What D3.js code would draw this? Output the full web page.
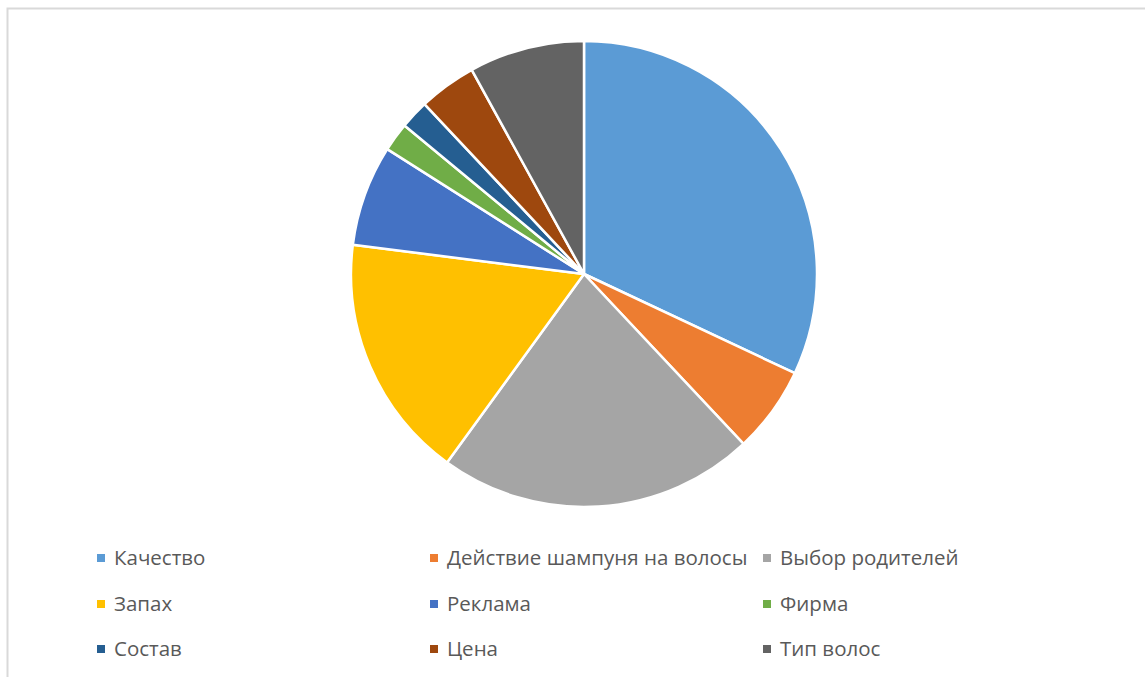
<!DOCTYPE html>
<html>
<head>
<meta charset="utf-8">
<script src="https://cdn.jsdelivr.net/npm/d3@7"></script>
<style>
  body { margin: 0; background: #fff; }
  .legend text { font-family: "Open Sans", "Noto Sans", sans-serif; font-size: 20.5px; fill: #595959; }
</style>
</head>
<body>
<script>
const width = 1145, height = 677;

// data (percent)
const categories = ["Качество", "Действие шампуня на волосы", "Выбор родителей", "Запах",
  "Реклама", "Фирма", "Состав", "Цена", "Тип волос"];
const values = [32, 6, 22, 17, 7, 2, 2, 4, 8];
const colors = ["#5B9BD5", "#ED7D31", "#A5A5A5", "#FFC000", "#4472C4", "#70AD47", "#255E91", "#9E480E", "#636363"];

const svg = d3.select("body").append("svg")
    .attr("width", width)
    .attr("height", height);

// chart area frame
svg.append("path")
    .attr("d", "M7.5," + height + " V8.5 H" + width)
    .attr("fill", "none")
    .attr("stroke", "#d9d9d9")
    .attr("stroke-width", 2);

const cx = 584, cy = 274, radius = 233;

const data = categories.map(function (c, i) { return { name: c, value: values[i] }; });

const pie = d3.pie()
    .sort(null)
    .value(function (d) { return d.value; });

const arc = d3.arc()
    .innerRadius(0)
    .outerRadius(radius);

const color = d3.scaleOrdinal().domain(categories).range(colors);

const pie_group = svg.append("g")
    .attr("transform", "translate(" + cx + "," + cy + ")");

pie_group.selectAll("path")
    .data(pie(data))
    .enter().append("path")
    .attr("d", arc)
    .attr("fill", function (d) { return color(d.data.name); })
    .attr("stroke", "#fff")
    .attr("stroke-width", 2.5)
    .attr("stroke-linejoin", "round");

// legend, 3 columns
const colX = [97, 430, 763];
const rowY = [558, 604, 649];

const legend = svg.append("g").attr("class", "legend");

const items = legend.selectAll("g")
    .data(categories)
    .enter().append("g")
    .attr("transform", function (d, i) {
        return "translate(" + colX[i % 3] + "," + rowY[Math.floor(i / 3)] + ")";
    });

items.append("rect")
    .attr("x", 0)
    .attr("y", -4)
    .attr("width", 8)
    .attr("height", 8)
    .attr("fill", function (d) { return color(d); });

items.append("text")
    .attr("x", 17)
    .attr("y", 0)
    .attr("dy", "0.35em")
    .text(function (d) { return d; });
</script>
</body>
</html>
